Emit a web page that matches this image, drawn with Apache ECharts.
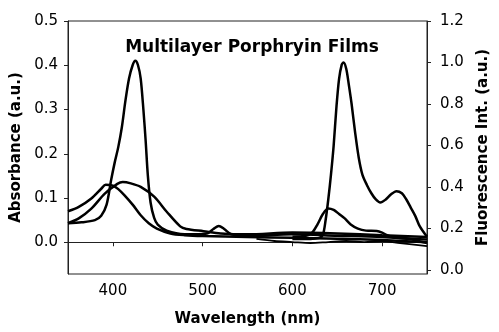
<!DOCTYPE html>
<html>
<head>
<meta charset="utf-8">
<script src="https://cdn.jsdelivr.net/npm/echarts@6/dist/echarts.min.js"></script>
<style>
  html, body { margin: 0; padding: 0; background: #fff; }
  #chart { width: 499px; height: 332px; }
</style>
</head>
<body>
<div id="chart"></div>
<script>
// absorbance (left axis)
const absA_w = [350, 365, 380, 387, 393, 398, 402, 406, 410, 414, 418, 422, 425, 428, 431, 434, 436.5, 439, 442, 446, 450, 460, 480, 505, 512, 518, 524, 532, 550, 600, 650, 700, 750];
const absA_v = [0.043, 0.045, 0.05, 0.06, 0.085, 0.14, 0.18, 0.215, 0.26, 0.32, 0.37, 0.4, 0.41, 0.4, 0.37, 0.3, 0.23, 0.15, 0.09, 0.055, 0.04, 0.026, 0.018, 0.02, 0.03, 0.037, 0.03, 0.018, 0.014, 0.018, 0.015, 0.012, 0.006];

const absB_w = [350, 362, 376, 387, 392, 400, 406, 413, 422, 431, 440, 449, 464, 480, 500, 550, 600, 650, 700, 750];
const absB_v = [0.07, 0.08, 0.099, 0.121, 0.13, 0.128, 0.12, 0.106, 0.085, 0.061, 0.043, 0.031, 0.02, 0.016, 0.014, 0.012, 0.01, 0.008, 0.005, 0.0];

const absC_w = [350, 362, 376, 391, 405, 411, 420, 431, 446, 460, 475, 482, 501, 520, 550, 600, 650, 700, 750];
const absC_v = [0.043, 0.054, 0.076, 0.11, 0.132, 0.136, 0.133, 0.125, 0.103, 0.069, 0.036, 0.03, 0.025, 0.02, 0.018, 0.022, 0.02, 0.016, 0.012];

// fluorescence (right axis)
const flD_w = [600, 620, 630, 634, 637, 640, 643, 646, 649, 652, 655, 657, 660, 663, 666, 670, 674, 678, 683, 688, 693, 698, 704, 710, 716, 722, 727, 732, 737, 742, 750];
const flD_v = [0.15, 0.15, 0.155, 0.17, 0.24, 0.34, 0.46, 0.6, 0.78, 0.92, 0.99, 1.0, 0.97, 0.89, 0.8, 0.66, 0.54, 0.46, 0.41, 0.37, 0.34, 0.325, 0.34, 0.365, 0.38, 0.37, 0.34, 0.3, 0.26, 0.21, 0.16];

const flE_w = [600, 615, 622, 628, 634, 640, 646, 652, 658, 665, 673, 682, 694, 700, 705, 715, 730, 750];
const flE_v = [0.16, 0.165, 0.18, 0.22, 0.27, 0.297, 0.29, 0.27, 0.25, 0.22, 0.2, 0.19, 0.188, 0.18, 0.169, 0.155, 0.15, 0.13];

const flF_w = [560, 580, 600, 620, 640, 660, 680, 700, 720, 750];
const flF_v = [0.15, 0.14, 0.135, 0.13, 0.135, 0.14, 0.135, 0.14, 0.13, 0.115];

const xTicks = [400, 500, 600, 700];
const leftTicks = [0, 0.1, 0.2, 0.3, 0.4, 0.5];
const rightTicks = [0, 0.2, 0.4, 0.6, 0.8, 1.0, 1.2];

const zip = (w, v) => w.map((x, i) => [x, v[i]]);

const font = "'DejaVu Sans', sans-serif";

const chart = echarts.init(document.getElementById('chart'));

const line = (w, v, axis, width) => ({
  type: 'line',
  yAxisIndex: axis,
  data: zip(w, v),
  smooth: 0.3,
  symbol: 'none',
  lineStyle: { color: '#000', width: width },
  animation: false
});

chart.setOption({
  animation: false,
  grid: { left: 68, right: 66, top: 21, bottom: 56, show: true, borderColor: '#222', borderWidth: 1 },
  title: {
    text: 'Multilayer Porphryin Films',
    left: 247, top: 34, textAlign: 'center',
    textStyle: { fontFamily: font, fontWeight: 'bold', fontSize: 17, color: '#000' }
  },
  xAxis: {
    type: 'value', min: 350, max: 750,
    name: 'Wavelength (nm)', nameLocation: 'middle', nameGap: 38,
    nameTextStyle: { fontFamily: font, fontWeight: 'bold', fontSize: 15, color: '#000' },
    axisLine: { show: true, lineStyle: { color: '#222' } },
    axisTick: { show: true, length: 4, customValues: xTicks, lineStyle: { color: '#222' } },
    axisLabel: { customValues: xTicks, fontFamily: font, fontSize: 15, color: '#000', margin: 10 },
    splitLine: { show: false }
  },
  yAxis: [
    {
      type: 'value', min: -0.0717, max: 0.5, position: 'left',
      name: 'Absorbance (a.u.)', nameLocation: 'middle', nameRotate: 90, nameGap: 37,
      nameTextStyle: { fontFamily: font, fontWeight: 'bold', fontSize: 15, color: '#000' },
      axisLine: { show: true, lineStyle: { color: '#222' } },
      axisTick: { show: true, length: 4, customValues: leftTicks, lineStyle: { color: '#222' } },
      axisLabel: { customValues: leftTicks, fontFamily: font, fontSize: 15, color: '#000', margin: 10,
        formatter: v => v.toFixed(1) },
      splitLine: { show: false }
    },
    {
      type: 'value', min: -0.019, max: 1.2, position: 'right',
      name: 'Fluorescence Int. (a.u.)', nameLocation: 'middle', nameRotate: 90, nameGap: 49,
      nameTextStyle: { fontFamily: font, fontWeight: 'bold', fontSize: 15, color: '#000' },
      axisLine: { show: true, lineStyle: { color: '#222' } },
      axisTick: { show: true, length: 4, customValues: rightTicks, lineStyle: { color: '#222' } },
      axisLabel: { customValues: rightTicks, fontFamily: font, fontSize: 15, color: '#000', margin: 13,
        formatter: v => v.toFixed(1) },
      splitLine: { show: false }
    }
  ],
  series: [
    line(absA_w, absA_v, 0, 2.5),
    line(absB_w, absB_v, 0, 2.5),
    line(absC_w, absC_v, 0, 2.5),
    line(flF_w, flF_v, 1, 1.8),
    line(flE_w, flE_v, 1, 2.5),
    line(flD_w, flD_v, 1, 2.5)
  ]
});
</script>
</body>
</html>
